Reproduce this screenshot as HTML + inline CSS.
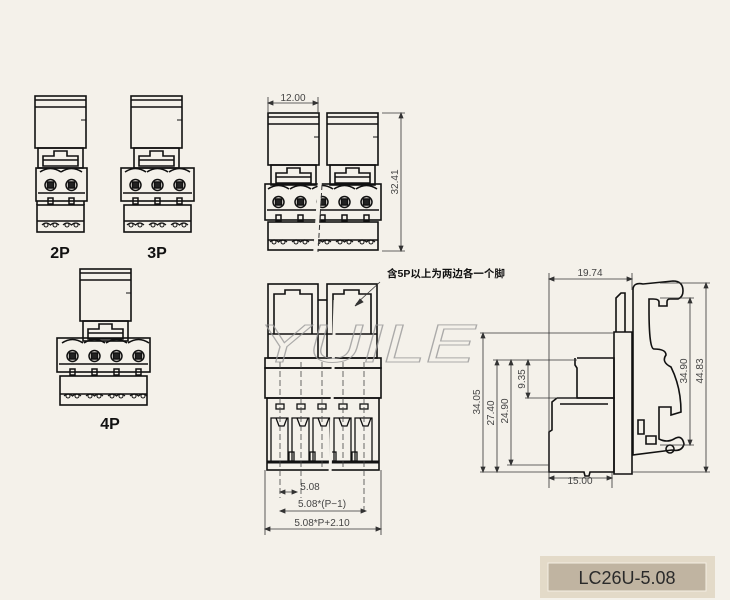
<!DOCTYPE html>
<html><head><meta charset="utf-8"><style>
html,body{margin:0;padding:0;background:#f4f1ea;}
svg{display:block;}
text{font-family:"Liberation Sans","Noto Sans CJK SC",sans-serif;}
</style></head><body>
<svg width="730" height="600" viewBox="0 0 730 600" xmlns="http://www.w3.org/2000/svg">
<rect width="730" height="600" fill="#f4f1ea"/>
<defs>
 <g id="top" fill="none" stroke="#111" stroke-width="1.6">
  <rect x="0" y="0" width="51" height="52"/>
  <line x1="0" y1="4" x2="51" y2="4"/>
  <line x1="0" y1="11" x2="51" y2="11"/>
  <line x1="46" y1="24" x2="51" y2="24" stroke-width="1"/>
  <rect x="3" y="52" width="45" height="20"/>
  <path d="M8 70 V60 H19 V55 H32 V60 H43 V70 Z"/>
  <line x1="8" y1="64" x2="43" y2="64"/>
 </g>
 <g id="pin" fill="none" stroke="#111" stroke-width="1.5">
  <path d="M0 4 Q10.5 -3 21 4"/>
  <circle cx="10.5" cy="17" r="5.5"/>
  <rect x="7.5" y="14" width="6" height="6" fill="#222"/>
  <rect x="8" y="30" width="5" height="6"/>
  <path d="M2 57 q4 -4 8.5 0 q4 -4 8.5 0" stroke-width="1.2"/>
  <circle cx="6" cy="57" r="2" stroke-width="1"/><circle cx="15" cy="57" r="2" stroke-width="1"/>
 </g>
</defs>

<!-- 2P -->
<g transform="translate(35,96)"><use href="#top"/></g>
<g fill="none" stroke="#111" stroke-width="1.6">
 <rect x="36" y="168" width="51" height="33"/>
 <line x1="38" y1="193" x2="85" y2="193"/>
 <rect x="37" y="205" width="47" height="27"/>
 <line x1="37" y1="201" x2="37" y2="205"/><line x1="84" y1="201" x2="84" y2="205"/>
 <line x1="37" y1="221" x2="84" y2="221"/>
</g>
<g transform="translate(40,168)"><use href="#pin"/></g>
<g transform="translate(61,168)"><use href="#pin"/></g>
<text x="60" y="258" font-size="16" font-weight="bold" text-anchor="middle" fill="#111">2P</text>

<!-- 3P -->
<g transform="translate(131,96)"><use href="#top"/></g>
<g fill="none" stroke="#111" stroke-width="1.6">
 <rect x="121" y="168" width="73" height="33"/>
 <line x1="123" y1="193" x2="192" y2="193"/>
 <rect x="124" y="205" width="67" height="27"/>
 <line x1="124" y1="221" x2="191" y2="221"/>
</g>
<g transform="translate(125,168)"><use href="#pin"/></g>
<g transform="translate(147,168)"><use href="#pin"/></g>
<g transform="translate(169,168)"><use href="#pin"/></g>
<text x="157" y="258" font-size="16" font-weight="bold" text-anchor="middle" fill="#111">3P</text>

<!-- 4P -->
<g transform="translate(80,269)"><use href="#top"/></g>
<g fill="none" stroke="#111" stroke-width="1.6">
 <rect x="57" y="338" width="93" height="34"/>
 <line x1="59" y1="364" x2="148" y2="364"/>
 <rect x="60" y="376" width="87" height="29"/>
 <line x1="60" y1="394" x2="147" y2="394"/>
</g>
<g transform="translate(62,339)"><use href="#pin"/></g>
<g transform="translate(84,339)"><use href="#pin"/></g>
<g transform="translate(106,339)"><use href="#pin"/></g>
<g transform="translate(128,339)"><use href="#pin"/></g>
<text x="110" y="429" font-size="16" font-weight="bold" text-anchor="middle" fill="#111">4P</text>

<!-- top view 5P -->
<g transform="translate(268,113)"><use href="#top"/></g>
<g transform="translate(327,113)"><use href="#top"/></g>
<g fill="none" stroke="#111" stroke-width="1.6">
 <rect x="265" y="184" width="116" height="36"/>
 <line x1="267" y1="210" x2="379" y2="210"/>
 <rect x="268" y="222" width="110" height="28"/>
 <line x1="268" y1="240" x2="378" y2="240"/>
</g>
<g transform="translate(268,185)"><use href="#pin"/></g>
<g transform="translate(290,185)"><use href="#pin"/></g>
<g transform="translate(312,185)"><use href="#pin"/></g>
<g transform="translate(334,185)"><use href="#pin"/></g>
<g transform="translate(356,185)"><use href="#pin"/></g>
<line x1="320" y1="180" x2="315" y2="256" stroke="#f4f1ea" stroke-width="4"/>
<line x1="322" y1="185" x2="318" y2="252" stroke="#333" stroke-width="1" stroke-dasharray="5,3"/>
<g stroke="#333" stroke-width="0.8" fill="#333">
 <line x1="268" y1="97" x2="268" y2="112"/><line x1="318" y1="97" x2="318" y2="112"/>
 <line x1="268" y1="103" x2="318" y2="103"/>
 <line x1="382" y1="113" x2="405" y2="113"/><line x1="382" y1="251" x2="405" y2="251"/>
 <line x1="401" y1="113" x2="401" y2="251"/>
 <path d="M268 103 l5 -2 v4z M318 103 l-5 -2 v4z M401 113 l-2 5 h4z M401 251 l-2 -5 h4z"/>
</g>
<text x="293" y="101" font-size="10" text-anchor="middle" fill="#444">12.00</text>
<text x="0" y="0" font-size="10" text-anchor="middle" fill="#444" transform="translate(398,182) rotate(-90)">32.41</text>

<!-- front view -->
<g fill="none" stroke="#111" stroke-width="1.6">
 <rect x="268" y="284" width="50" height="74"/>
 <rect x="327" y="284" width="50" height="74"/>
 <path d="M274 334 V294 H285 V290 H300 V294 H312 V334"/>
 <path d="M333 334 V294 H344 V290 H359 V294 H371 V334"/>
 <line x1="268" y1="334" x2="377" y2="334"/>
 <line x1="318" y1="300" x2="327" y2="300"/>
 <rect x="265" y="358" width="116" height="10"/>
 <rect x="265" y="368" width="116" height="30"/>
 <rect x="267" y="398" width="112" height="72"/>
 <line x1="267" y1="462" x2="379" y2="462" stroke-width="3"/>
</g>
<g fill="none" stroke="#111" stroke-width="1.3">
 <rect x="276" y="404" width="8" height="5"/><rect x="297" y="404" width="8" height="5"/><rect x="318" y="404" width="8" height="5"/><rect x="339" y="404" width="8" height="5"/><rect x="360" y="404" width="8" height="5"/>
 <path d="M271 462 V418 H288 V462 M276 418 l3 8 h5 l3 -8"/>
 <path d="M292 462 V418 H309 V462 M297 418 l3 8 h5 l3 -8"/>
 <path d="M313 462 V418 H330 V462 M318 418 l3 8 h5 l3 -8"/>
 <path d="M334 462 V418 H351 V462 M339 418 l3 8 h5 l3 -8"/>
 <path d="M355 462 V418 H372 V462 M360 418 l3 8 h5 l3 -8"/>
 <rect x="289" y="452" width="5" height="9"/><rect x="310" y="452" width="5" height="9"/><rect x="331" y="452" width="5" height="9"/><rect x="352" y="452" width="5" height="9"/>
</g>
<g stroke="#444" stroke-width="0.8" stroke-dasharray="6,3">
 <line x1="280" y1="362" x2="280" y2="498"/><line x1="301" y1="362" x2="301" y2="498"/>
 <line x1="322" y1="362" x2="322" y2="470"/><line x1="343" y1="362" x2="343" y2="470"/>
 <line x1="364" y1="362" x2="364" y2="515"/>
</g>
<line x1="335" y1="300" x2="330" y2="475" stroke="#f4f1ea" stroke-width="3"/>
<g stroke="#333" stroke-width="0.8" fill="#333">
 <line x1="265" y1="470" x2="265" y2="535"/><line x1="381" y1="470" x2="381" y2="535"/>
 <line x1="280" y1="492" x2="297" y2="492"/>
 <line x1="280" y1="511" x2="366" y2="511"/>
 <line x1="265" y1="529" x2="381" y2="529"/>
 <path d="M280 492 l5 -2 v4z M297 492 l-5 -2 v4z M280 511 l5 -2 v4z M366 511 l-5 -2 v4z M265 529 l5 -2 v4z M381 529 l-5 -2 v4z"/>
 <line x1="380" y1="282" x2="356" y2="304"/>
 <path d="M355 306 l8 -4 l-3 -3z"/>
</g>
<text x="310" y="490" font-size="10" text-anchor="middle" fill="#444">5.08</text>
<text x="322" y="507" font-size="10" text-anchor="middle" fill="#444">5.08*(P−1)</text>
<text x="322" y="526" font-size="10" text-anchor="middle" fill="#444">5.08*P+2.10</text>
<text x="387" y="277" font-size="10.5" font-weight="bold" fill="#111">含5P以上为两边各一个脚</text>

<!-- watermark -->
<text x="258" y="362" font-size="54" font-style="italic" textLength="218" lengthAdjust="spacingAndGlyphs" fill="none" stroke="#999" stroke-width="1" opacity="0.8">YUILE</text>

<!-- side view -->
<g fill="none" stroke="#111" stroke-width="1.6">
 <path d="M614 332 H632 V474 H614 Z"/>
 <path d="M577 358 H614 V398 H577 V368 l-2 -3 V358"/>
 <path d="M557 398 H614 V472 H590 l-1 4 h-4 l-1 -4 H549 V432 l3 -2 V402 l5 -4"/>
 <line x1="560" y1="404" x2="608" y2="404"/>
 <path d="M616 332 V298 l5 -5 h4 V332"/>
 <path d="M633 455 V290 q0 -8 10 -6 l30 -3 q10 0 10 10 q0 6 -5 8 h-8 q-3 0 -3 3 v4 h-8 v-4 q0 -3 -6 -3 h-4 v10 q0 40 5 40 q12 0 12 6 q-5 7 5 12 q10 20 10 45 l-10 3 v-8 h-12 v32 q8 4 15 0 q8 -5 10 5 q-2 8 -12 6 Z"/>
 <circle cx="670" cy="449" r="4"/>
 <path d="M638 420 h6 v14 h-6z M646 436 h10 v8 h-10z"/>
</g>
<g stroke="#333" stroke-width="0.8" fill="#333">
 <line x1="549" y1="273" x2="549" y2="488"/><line x1="632" y1="273" x2="632" y2="290"/><line x1="612" y1="472" x2="612" y2="488"/>
 <line x1="549" y1="279" x2="632" y2="279"/><line x1="549" y1="478" x2="612" y2="478"/>
 <path d="M549 279 l5 -2 v4z M632 279 l-5 -2 v4z M549 478 l5 -2 v4z M612 478 l-5 -2 v4z"/>
 <line x1="480" y1="333" x2="614" y2="333"/><line x1="480" y1="472" x2="549" y2="472"/>
 <line x1="493" y1="360" x2="577" y2="360"/><line x1="507" y1="465" x2="549" y2="465"/>
 <line x1="525" y1="398" x2="577" y2="398"/>
 <line x1="483" y1="333" x2="483" y2="472"/><line x1="497" y1="360" x2="497" y2="472"/>
 <line x1="511" y1="360" x2="511" y2="465"/><line x1="528" y1="360" x2="528" y2="398"/>
 <line x1="660" y1="298" x2="694" y2="298"/><line x1="660" y1="445" x2="694" y2="445"/>
 <line x1="660" y1="283" x2="710" y2="283"/><line x1="632" y1="472" x2="710" y2="472"/>
 <line x1="690" y1="298" x2="690" y2="445"/><line x1="706" y1="283" x2="706" y2="472"/>
 <path d="M483 333 l-2 5 h4z M483 472 l-2 -5 h4z M497 360 l-2 5 h4z M497 472 l-2 -5 h4z M511 360 l-2 5 h4z M511 465 l-2 -5 h4z M528 360 l-2 5 h4z M528 398 l-2 -5 h4z M690 298 l-2 5 h4z M690 445 l-2 -5 h4z M706 283 l-2 5 h4z M706 472 l-2 -5 h4z"/>
</g>
<text x="590" y="276" font-size="10" text-anchor="middle" fill="#444">19.74</text>
<text x="580" y="484" font-size="10" text-anchor="middle" fill="#444">15.00</text>
<g font-size="10" text-anchor="middle" fill="#444">
 <text transform="translate(480,402) rotate(-90)">34.05</text>
 <text transform="translate(494,413) rotate(-90)">27.40</text>
 <text transform="translate(508,411) rotate(-90)">24.90</text>
 <text transform="translate(525,379) rotate(-90)">9.35</text>
 <text transform="translate(687,371) rotate(-90)">34.90</text>
 <text transform="translate(703,371) rotate(-90)">44.83</text>
</g>

<!-- label -->
<rect x="540" y="556" width="175" height="42" fill="#e3dac8"/>
<rect x="548" y="563" width="158" height="28" fill="#c0b4a1" stroke="#f4efe4" stroke-width="1"/>
<text x="627" y="584" font-size="18" text-anchor="middle" fill="#2a2a2a">LC26U-5.08</text>
</svg>
</body></html>
